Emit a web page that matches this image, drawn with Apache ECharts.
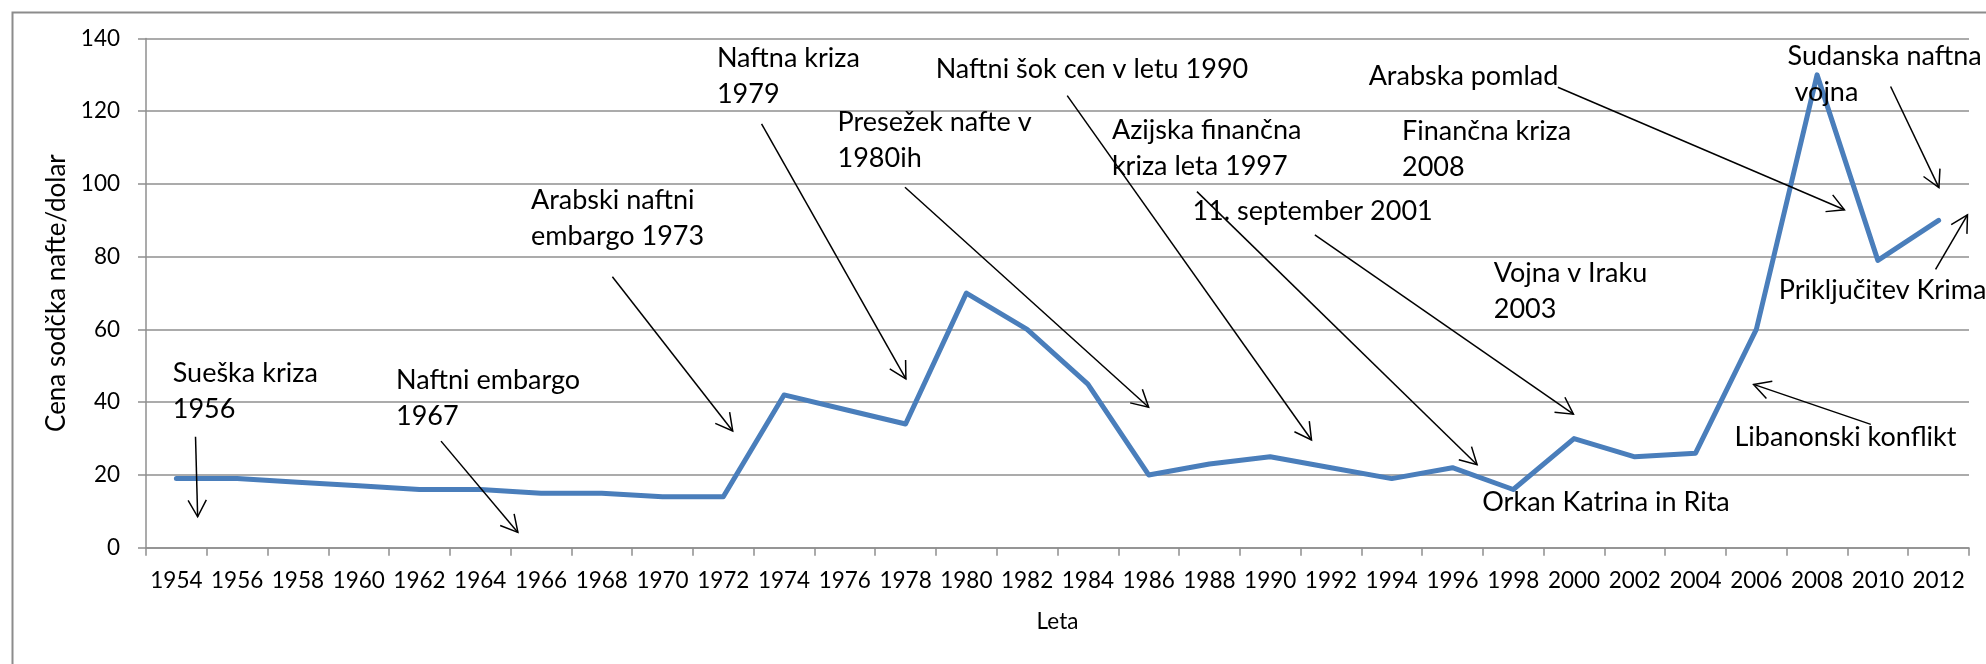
<!DOCTYPE html>
<html>
<head>
<meta charset="utf-8">
<title>Cena sodčka nafte</title>
<script src="https://cdn.jsdelivr.net/npm/echarts@6/dist/echarts.min.js"></script>
<style>
    html, body { margin: 0; padding: 0; background: #fff; }
    #chart { width: 1986px; height: 664px; }
</style>
</head>
<body>
<div id="chart"></div>
<script>
// leta na osi x
const years = ['1954', '1956', '1958', '1960', '1962', '1964', '1966', '1968', '1970', '1972',
    '1974', '1976', '1978', '1980', '1982', '1984', '1986', '1988', '1990', '1992',
    '1994', '1996', '1998', '2000', '2002', '2004', '2006', '2008', '2010', '2012'];

// cena sodčka nafte (dolar)
const prices = [19, 19, 18, 17, 16, 16, 15, 15, 14, 14,
    42, 38, 34, 70, 60, 45, 20, 23, 25, 22,
    19, 22, 16, 30, 25, 26, 60, 130, 79, 90];

// y os
const yMin = 0;
const yMax = 140;
const yStep = 20;

// opombe: besedilo + sidro prve vrstice (leto, cena)
const noteTexts = [
    'Sueška kriza\n1956',
    'Naftni embargo\n1967',
    'Arabski naftni\nembargo 1973',
    'Naftna kriza\n1979',
    'Presežek nafte v\n1980ih',
    'Naftni šok cen v letu 1990',
    'Azijska finančna\nkriza leta 1997',
    '11. september 2001',
    'Vojna v Iraku\n2003',
    'Finančna kriza\n2008',
    'Arabska pomlad',
    'Sudanska naftna\n vojna',
    'Priključitev Krima',
    'Libanonski konflikt',
    'Orkan Katrina in Rita'
];
const noteYears = [1953.88, 1961.23, 1965.67, 1971.79, 1975.76, 1978.99, 1984.79, 1987.44,
    1997.36, 1994.34, 1993.24, 2007.03, 2006.74, 2005.28, 1996.98];
const notePrices = [48.0, 46.1, 95.6, 134.6, 116.9, 131.5, 114.7, 92.4,
    75.4, 114.4, 129.7, 135.0, 70.9, 30.4, 12.4];

// puščice: začetek (leto, cena) -> konica (leto, cena)
const arrowFrom = [[1954.63, 30.5], [1962.71, 29.3], [1968.35, 74.5], [1973.26, 116.5],
    [1977.98, 99.1], [1983.32, 124.3], [1987.59, 97.9], [1991.47, 86.0],
    [1999.47, 126.6], [2010.42, 126.8], [2011.90, 76.5], [2009.77, 33.9]];
const arrowTo = [[1954.70, 8.5], [1965.24, 4.2], [1972.31, 32.1], [1978.01, 46.4],
    [1986.0, 38.6], [1991.36, 29.6], [1996.81, 22.8], [1999.98, 36.7],
    [2008.90, 92.9], [2012.01, 99.0], [2012.95, 91.5], [2005.91, 44.9]];

const FONT = 'Lato, "Liberation Sans", sans-serif';
const GRID_COLOR = '#8f8f8f';

const chart = echarts.init(document.getElementById('chart'), null, {renderer: 'canvas'});

function renderNote(params, api) {
    const p = api.coord([api.value(0), api.value(1)]);
    return {
        type: 'text',
        x: p[0],
        y: p[1] - 18,
        style: {
            text: noteTexts[params.dataIndex],
            fill: '#000',
            fontSize: 27,
            fontFamily: FONT,
            lineHeight: 36,
            align: 'left',
            verticalAlign: 'top'
        }
    };
}

function renderArrow(params, api) {
    const a = api.coord([api.value(0), api.value(1)]);
    const b = api.coord([api.value(2), api.value(3)]);
    const ang = Math.atan2(b[1] - a[1], b[0] - a[0]);
    const len = 19, spread = 0.5;
    const h1 = [b[0] - len * Math.cos(ang - spread), b[1] - len * Math.sin(ang - spread)];
    const h2 = [b[0] - len * Math.cos(ang + spread), b[1] - len * Math.sin(ang + spread)];
    return {
        type: 'group',
        children: [
            {
                type: 'line',
                shape: {x1: a[0], y1: a[1], x2: b[0], y2: b[1]},
                style: {stroke: '#000', lineWidth: 1.5}
            },
            {
                type: 'polyline',
                shape: {points: [h1, b, h2]},
                style: {stroke: '#000', lineWidth: 1.5, fill: null}
            }
        ]
    };
}

const option = {
    backgroundColor: '#fff',
    animation: false,
    textStyle: {fontFamily: FONT},
    graphic: [{
        type: 'rect',
        left: 10,
        top: 10,
        shape: {width: 2000, height: 700},
        style: {fill: null, stroke: '#8c8c8c', lineWidth: 2},
        silent: true
    }],
    grid: {
        left: 146,
        right: 17,
        top: 38.5,
        bottom: 116.3,
        containLabel: false,
        outerBoundsMode: 'none'
    },
    xAxis: [
        {
            type: 'category',
            data: years,
            boundaryGap: true,
            name: 'Leta',
            nameLocation: 'middle',
            nameGap: 63,
            nameTextStyle: {fontSize: 22.5, color: '#000', fontFamily: FONT},
            axisLine: {show: true, lineStyle: {color: GRID_COLOR, width: 1.5}},
            axisTick: {show: true, inside: false, length: 8, alignWithLabel: false, interval: 0,
                lineStyle: {color: GRID_COLOR, width: 1.5}},
            axisLabel: {interval: 0, margin: 22, fontSize: 22.5, color: '#000', fontFamily: FONT},
            splitLine: {show: false}
        },
        {
            type: 'value',
            min: 1953,
            max: 2013,
            show: false,
            splitLine: {show: false}
        }
    ],
    yAxis: {
        type: 'value',
        min: yMin,
        max: yMax,
        interval: yStep,
        name: 'Cena sodčka nafte/dolar',
        nameLocation: 'middle',
        nameGap: 74,
        nameRotate: 90,
        nameTextStyle: {fontSize: 26, color: '#000', fontFamily: FONT},
        axisLine: {show: true, lineStyle: {color: GRID_COLOR, width: 1.5}},
        axisTick: {show: true, inside: false, length: 8, lineStyle: {color: GRID_COLOR, width: 1.5}},
        axisLabel: {margin: 26, fontSize: 22.5, color: '#000', fontFamily: FONT},
        splitLine: {show: true, lineStyle: {color: GRID_COLOR, width: 1.5}}
    },
    series: [
        {
            type: 'line',
            data: prices,
            xAxisIndex: 0,
            symbol: 'none',
            silent: true,
            z: 2,
            lineStyle: {color: '#4a7ebb', width: 5, cap: 'round', join: 'round'}
        },
        {
            type: 'custom',
            xAxisIndex: 1,
            silent: true,
            z: 3,
            renderItem: renderArrow,
            data: arrowFrom.map((f, i) => [f[0], f[1], arrowTo[i][0], arrowTo[i][1]])
        },
        {
            type: 'custom',
            xAxisIndex: 1,
            silent: true,
            z: 4,
            renderItem: renderNote,
            data: noteYears.map((y, i) => [y, notePrices[i]])
        }
    ]
};

chart.setOption(option);
</script>
</body>
</html>
